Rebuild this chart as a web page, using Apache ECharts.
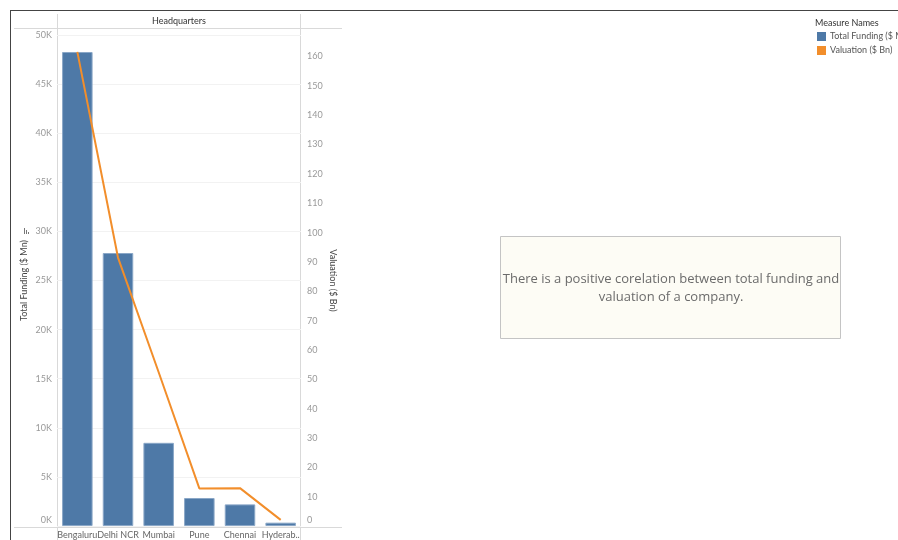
<!DOCTYPE html>
<html>
<head>
<meta charset="utf-8">
<script src="https://cdn.jsdelivr.net/npm/echarts@6/dist/echarts.min.js"></script>
<style>
  html, body { margin: 0; padding: 0; background: #fff; }
  #chart { width: 898px; height: 540px; }
</style>
</head>
<body>
<div id="chart"></div>
<script>
// Funding and valuation by headquarters city
var cities = ['Bengaluru', 'Delhi NCR', 'Mumbai', 'Pune', 'Chennai', 'Hyderabad'];
var totalFunding = [48270, 27800, 8470, 2850, 2200, 340];   // $ Mn
var valuation = [161.6, 91.5, 52.4, 12.8, 12.9, 2.1];        // $ Bn

var fundingTicks = { min: 0, max: 50000, interval: 5000 };
var valuationTicks = { min: 0, max: 167.35, interval: 10 };

var FONT = 'Open Sans, Noto Sans, sans-serif';
var SMALL = 'Lato, Open Sans, sans-serif';
var chart = echarts.init(document.getElementById('chart'));

var frame = '#d9d9d9';
function hline(x1, x2, y, color) {
  return { type: 'line', shape: { x1: x1, y1: y, x2: x2, y2: y }, style: { stroke: color || frame, lineWidth: 1 }, silent: true };
}
function vline(x, y1, y2, color) {
  return { type: 'line', shape: { x1: x, y1: y1, x2: x, y2: y2 }, style: { stroke: color || frame, lineWidth: 1 }, silent: true };
}

chart.setOption({
  animation: false,
  backgroundColor: '#ffffff',
  textStyle: { fontFamily: FONT },
  grid: { left: 57, right: 597, top: 35, bottom: 13, containLabel: false },
  xAxis: {
    type: 'category',
    data: cities,
    axisLine: { show: false },
    axisTick: { show: false },
    axisLabel: {
      color: '#666', fontSize: 9, margin: 5, interval: 0, fontFamily: SMALL,
      width: 43.5, overflow: 'truncate', ellipsis: '..'
    }
  },
  yAxis: [
    {
      type: 'value',
      min: fundingTicks.min, max: fundingTicks.max, interval: fundingTicks.interval,
      name: 'Total Funding ($ Mn)',
      nameLocation: 'middle', nameGap: 28, nameRotate: 90,
      nameTextStyle: { color: '#444', fontSize: 9, fontFamily: SMALL },
      axisLine: { show: false }, axisTick: { show: false },
      splitLine: { show: true, lineStyle: { color: '#f2f2f2', width: 1 } },
      axisLabel: {
        color: '#999', fontSize: 9, margin: 5, fontFamily: SMALL,
        formatter: function (v) {
          return v === 0 ? '{z|0K}' : (v / 1000) + 'K';
        },
        rich: { z: { color: '#999', fontSize: 9, fontFamily: SMALL, padding: [0, 0, 12, 0] } }
      }
    },
    {
      type: 'value',
      min: valuationTicks.min, max: valuationTicks.max, interval: valuationTicks.interval,
      name: 'Valuation ($ Bn)',
      nameLocation: 'middle', nameGap: 27, nameRotate: -90,
      nameTextStyle: { color: '#444', fontSize: 9, fontFamily: SMALL },
      axisLine: { show: false }, axisTick: { show: false },
      splitLine: { show: false },
      axisLabel: {
        color: '#999', fontSize: 9, margin: 6, showMaxLabel: false, fontFamily: SMALL,
        formatter: function (v) {
          return v === 0 ? '{z|0}' : String(v);
        },
        rich: { z: { color: '#999', fontSize: 9, fontFamily: SMALL, padding: [0, 0, 12, 0] } }
      }
    }
  ],
  series: [
    {
      name: 'Total Funding ($ Mn)',
      type: 'bar',
      data: totalFunding,
      yAxisIndex: 0,
      barCategoryGap: '25%',
      itemStyle: { color: '#4e79a7', borderColor: '#8aa7c7', borderWidth: 1 }
    },
    {
      name: 'Valuation ($ Bn)',
      type: 'line',
      data: valuation,
      yAxisIndex: 1,
      symbol: 'none',
      lineStyle: { color: '#f28e2b', width: 2 },
      itemStyle: { color: '#f28e2b' },
      z: 5
    }
  ],
  graphic: [
    // dashboard frame
    hline(10, 898, 10.5, '#444'),
    vline(10.5, 10, 540, '#444'),
    // header row and pane separators
    hline(14, 342, 28.5),
    vline(57.5, 14, 540),
    vline(300.5, 14, 540),
    hline(14, 342, 527.5),
    {
      type: 'text', x: 179, y: 21,
      style: { text: 'Headquarters', textAlign: 'center', textVerticalAlign: 'middle', align: 'center', verticalAlign: 'middle', fill: '#333', fontSize: 9, fontFamily: SMALL }
    },
    // sort indicator beside the funding axis title
    { type: 'rect', shape: { x: 24, y: 228, width: 1, height: 6 }, style: { fill: '#777' }, silent: true },
    { type: 'rect', shape: { x: 26, y: 230, width: 1, height: 4 }, style: { fill: '#777' }, silent: true },
    { type: 'rect', shape: { x: 28, y: 232, width: 1, height: 2 }, style: { fill: '#777' }, silent: true },
    // legend
    { type: 'text', left: 815, top: 19, style: { text: 'Measure Names', fill: '#333', fontSize: 9, fontFamily: SMALL } },
    { type: 'rect', shape: { x: 817, y: 32, width: 9, height: 9 }, style: { fill: '#4e79a7' } },
    { type: 'text', left: 830, top: 32, style: { text: 'Total Funding ($ Mn)', fill: '#555', fontSize: 9, fontFamily: SMALL } },
    { type: 'rect', shape: { x: 817, y: 46, width: 9, height: 9 }, style: { fill: '#f28e2b' } },
    { type: 'text', left: 830, top: 46, style: { text: 'Valuation ($ Bn)', fill: '#555', fontSize: 9, fontFamily: SMALL } },
    // annotation box
    {
      type: 'rect', shape: { x: 500.5, y: 236.5, width: 340, height: 102 },
      style: { fill: '#fdfcf5', stroke: '#c4c4c4', lineWidth: 1 }
    },
    {
      type: 'text', x: 671, y: 288,
      style: {
        text: 'There is a positive corelation between total funding and\nvaluation of a company.',
        align: 'center', verticalAlign: 'middle', textAlign: 'center', textVerticalAlign: 'middle',
        fill: '#6b6b6b', fontSize: 13, lineHeight: 18, fontFamily: FONT
      }
    }
  ]
});
</script>
</body>
</html>
